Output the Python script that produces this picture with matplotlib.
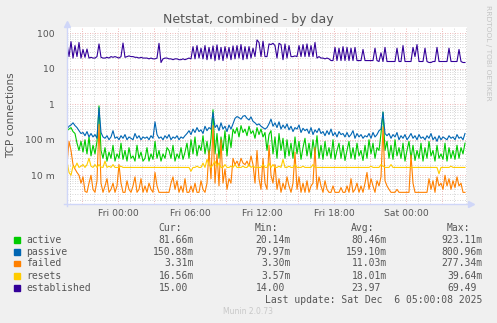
import matplotlib
matplotlib.use('Agg')
import matplotlib.pyplot as plt
import matplotlib.dates as mdates
import matplotlib.ticker as mtick
from matplotlib.lines import Line2D
from matplotlib.patches import Rectangle
import pandas as pd

# netstat samples, one every 10 minutes, Thu 19:45 -> Sat 04:55
active = [0.18, 0.20, 0.22, 0.17, 0.15, 0.08, 0.05, 0.09, 0.045, 0.10,
          0.04, 0.12, 0.035, 0.07, 0.04, 0.09, 0.90, 0.05, 0.03, 0.06,
          0.025, 0.045, 0.03, 0.07, 0.025, 0.04, 0.03, 0.08, 0.028, 0.05,
          0.025, 0.06, 0.03, 0.035, 0.025, 0.07, 0.03, 0.045, 0.025, 0.03,
          0.06, 0.025, 0.04, 0.028, 0.09, 0.03, 0.05, 0.025, 0.04, 0.03,
          0.06, 0.05, 0.03, 0.07, 0.025, 0.04, 0.03, 0.06, 0.028, 0.045,
          0.08, 0.03, 0.10, 0.04, 0.12, 0.035, 0.07, 0.05, 0.13, 0.04,
          0.09, 0.035, 0.11, 0.70, 0.04, 0.15, 0.03, 0.12, 0.05, 0.18,
          0.035, 0.14, 0.06, 0.20, 0.15, 0.22, 0.12, 0.25, 0.16, 0.20,
          0.13, 0.24, 0.15, 0.18, 0.11, 0.22, 0.14, 0.20, 0.12, 0.16,
          0.05, 0.14, 0.18, 0.04, 0.12, 0.03, 0.15, 0.05, 0.11, 0.03,
          0.10, 0.035, 0.08, 0.03, 0.12, 0.04, 0.09, 0.028, 0.06, 0.11,
          0.035, 0.08, 0.03, 0.10, 0.04, 0.13, 0.03, 0.07, 0.028, 0.09,
          0.035, 0.06, 0.03, 0.10, 0.028, 0.05, 0.08, 0.03, 0.07, 0.026,
          0.05, 0.09, 0.03, 0.06, 0.028, 0.08, 0.035, 0.05, 0.026, 0.07,
          0.03, 0.10, 0.04, 0.08, 0.03, 0.06, 0.05, 0.15, 0.60, 0.05,
          0.09, 0.03, 0.07, 0.028, 0.10, 0.035, 0.06, 0.03, 0.08, 0.025,
          0.05, 0.09, 0.03, 0.07, 0.026, 0.05, 0.03, 0.08, 0.025, 0.06,
          0.03, 0.09, 0.035, 0.05, 0.025, 0.07, 0.03, 0.04, 0.028, 0.08,
          0.025, 0.06, 0.03, 0.05, 0.028, 0.07, 0.03, 0.06, 0.04, 0.08]
passive = [0.20, 0.24, 0.26, 0.30, 0.25, 0.22, 0.18, 0.15, 0.16, 0.13,
           0.17, 0.12, 0.15, 0.12, 0.14, 0.11, 0.80, 0.16, 0.12, 0.11,
           0.13, 0.10, 0.12, 0.18, 0.11, 0.12, 0.10, 0.13, 0.11, 0.14,
           0.10, 0.12, 0.11, 0.10, 0.15, 0.11, 0.13, 0.10, 0.12, 0.11,
           0.12, 0.10, 0.13, 0.11, 0.32, 0.14, 0.11, 0.12, 0.10, 0.13,
           0.11, 0.14, 0.10, 0.12, 0.11, 0.13, 0.10, 0.12, 0.11, 0.13,
           0.15, 0.18, 0.14, 0.20, 0.16, 0.22, 0.17, 0.19, 0.15, 0.24,
           0.18, 0.22, 0.20, 0.60, 0.22, 0.26, 0.18, 0.30, 0.20, 0.24,
           0.17, 0.26, 0.20, 0.28, 0.40, 0.45, 0.42, 0.38, 0.46, 0.48,
           0.40, 0.36, 0.44, 0.33, 0.30, 0.26, 0.28, 0.24, 0.22, 0.20,
           0.22, 0.28, 0.38, 0.24, 0.30, 0.22, 0.32, 0.20, 0.26, 0.21,
           0.28, 0.19, 0.24, 0.17, 0.22, 0.20, 0.26, 0.16, 0.21, 0.18,
           0.20, 0.15, 0.22, 0.14, 0.19, 0.16, 0.21, 0.15, 0.17, 0.13,
           0.18, 0.14, 0.20, 0.13, 0.16, 0.12, 0.17, 0.14, 0.15, 0.12,
           0.16, 0.12, 0.14, 0.18, 0.11, 0.15, 0.12, 0.14, 0.11, 0.13,
           0.12, 0.15, 0.11, 0.16, 0.12, 0.14, 0.18, 0.20, 0.60, 0.15,
           0.13, 0.15, 0.11, 0.14, 0.12, 0.16, 0.10, 0.13, 0.11, 0.14,
           0.10, 0.12, 0.15, 0.11, 0.13, 0.10, 0.14, 0.11, 0.12, 0.10,
           0.13, 0.11, 0.15, 0.10, 0.12, 0.09, 0.13, 0.10, 0.12, 0.11,
           0.10, 0.13, 0.11, 0.12, 0.10, 0.14, 0.11, 0.12, 0.10, 0.15]
failed = [0.02, 0.09, 0.05, 0.02, 0.015, 0.012, 0.01, 0.006, 0.009, 0.0035,
          0.0033, 0.006, 0.01, 0.004, 0.0033, 0.007, 0.27, 0.006, 0.0033, 0.005,
          0.008, 0.0033, 0.004, 0.006, 0.0033, 0.005, 0.02, 0.006, 0.0033, 0.0033,
          0.007, 0.004, 0.0033, 0.005, 0.009, 0.0033, 0.004, 0.008, 0.0033, 0.005,
          0.0033, 0.006, 0.004, 0.0033, 0.012, 0.005, 0.0033, 0.0033, 0.0033, 0.0033,
          0.0033, 0.0033, 0.006, 0.009, 0.004, 0.007, 0.0033, 0.005, 0.0033, 0.008,
          0.0033, 0.0033, 0.005, 0.0033, 0.006, 0.0033, 0.0033, 0.007, 0.004, 0.0033,
          0.006, 0.05, 0.008, 0.25, 0.006, 0.04, 0.005, 0.10, 0.006, 0.015,
          0.004, 0.008, 0.006, 0.03, 0.02, 0.025, 0.018, 0.03, 0.022, 0.02,
          0.025, 0.018, 0.035, 0.02, 0.006, 0.05, 0.008, 0.004, 0.03, 0.006,
          0.004, 0.07, 0.01, 0.006, 0.02, 0.004, 0.008, 0.0033, 0.006, 0.004,
          0.009, 0.005, 0.0033, 0.006, 0.045, 0.004, 0.009, 0.0033, 0.006, 0.0033,
          0.007, 0.0033, 0.005, 0.006, 0.06, 0.004, 0.009, 0.005, 0.0033, 0.007,
          0.004, 0.0033, 0.0033, 0.005, 0.0033, 0.0033, 0.0033, 0.0045, 0.0033, 0.0033,
          0.005, 0.0033, 0.008, 0.0033, 0.004, 0.006, 0.0033, 0.005, 0.0033, 0.006,
          0.012, 0.004, 0.008, 0.005, 0.0033, 0.007, 0.005, 0.009, 0.23, 0.007,
          0.005, 0.004, 0.0033, 0.0033, 0.0033, 0.004, 0.0033, 0.0033, 0.0033, 0.0033,
          0.0033, 0.0033, 0.037, 0.006, 0.0033, 0.0033, 0.0033, 0.0033, 0.0033, 0.0033,
          0.0033, 0.008, 0.004, 0.007, 0.0033, 0.009, 0.005, 0.006, 0.004, 0.01,
          0.005, 0.008, 0.004, 0.007, 0.0045, 0.009, 0.005, 0.006, 0.0033, 0.0033]
resets = [0.025, 0.012, 0.010, 0.018, 0.0166, 0.022, 0.0166, 0.018, 0.020, 0.0166,
          0.020, 0.030, 0.018, 0.0166, 0.020, 0.0166, 0.020, 0.017, 0.0166, 0.025,
          0.0166, 0.018, 0.0166, 0.020, 0.0166, 0.0166, 0.0166, 0.018, 0.0166, 0.0166,
          0.0166, 0.0166, 0.0166, 0.0166, 0.0166, 0.0166, 0.0166, 0.0166, 0.0166, 0.0166,
          0.0166, 0.0166, 0.0166, 0.0166, 0.0166, 0.0166, 0.0166, 0.0166, 0.0166, 0.0166,
          0.0166, 0.0166, 0.0166, 0.0166, 0.0166, 0.0166, 0.0166, 0.0166, 0.0166, 0.0166,
          0.0166, 0.0166, 0.013, 0.0166, 0.0166, 0.018, 0.0166, 0.0166, 0.022, 0.0166,
          0.028, 0.020, 0.0166, 0.020, 0.025, 0.018, 0.022, 0.0166, 0.0166, 0.020,
          0.0166, 0.0166, 0.018, 0.0166, 0.020, 0.0166, 0.0166, 0.0166, 0.018, 0.0166,
          0.0166, 0.020, 0.0166, 0.018, 0.0166, 0.0166, 0.0166, 0.0166, 0.020, 0.0166,
          0.0166, 0.022, 0.0166, 0.020, 0.0166, 0.0166, 0.018, 0.0166, 0.028, 0.0166,
          0.0166, 0.018, 0.0166, 0.0166, 0.020, 0.0166, 0.0166, 0.0166, 0.018, 0.0166,
          0.0166, 0.0166, 0.0166, 0.020, 0.0166, 0.0166, 0.0166, 0.0166, 0.0166, 0.0166,
          0.0166, 0.0166, 0.0166, 0.0166, 0.0166, 0.0166, 0.0166, 0.0166, 0.0166, 0.0166,
          0.0166, 0.0166, 0.0166, 0.0166, 0.0166, 0.0166, 0.0166, 0.0166, 0.0166, 0.0166,
          0.0166, 0.0166, 0.018, 0.0166, 0.0166, 0.0166, 0.0166, 0.020, 0.018, 0.0166,
          0.0166, 0.0166, 0.020, 0.0166, 0.0166, 0.0166, 0.0166, 0.0166, 0.0166, 0.0166,
          0.0166, 0.0166, 0.0166, 0.0166, 0.0166, 0.0166, 0.0166, 0.0166, 0.0166, 0.0166,
          0.0166, 0.0166, 0.0166, 0.0166, 0.0166, 0.0166, 0.011, 0.0166, 0.0166, 0.0166,
          0.0166, 0.0166, 0.018, 0.0166, 0.0166, 0.0166, 0.0166, 0.0166, 0.0166, 0.0166]
established = [50, 22, 58, 20, 45, 22, 55, 20, 35, 21,
               36, 20, 21, 20, 20, 22, 50, 21, 20, 20,
               21, 20, 22, 21, 22, 21, 20, 22, 53, 21,
               22, 23, 22, 22, 21, 21, 20, 21, 20, 20,
               20, 19, 20, 19, 19, 20, 52, 15, 19, 20,
               20, 19, 19, 18, 19, 19, 18, 18, 19, 18,
               19, 20, 19, 42, 19, 45, 20, 38, 19, 45,
               18, 40, 19, 44, 17, 47, 18, 40, 17, 42,
               20, 40, 18, 44, 19, 45, 20, 48, 18, 42,
               19, 42, 20, 38, 22, 65, 55, 22, 60, 22,
               22, 50, 48, 52, 45, 20, 52, 48, 18, 50,
               20, 45, 22, 22, 23, 22, 45, 22, 48, 22,
               50, 22, 45, 22, 55, 20, 22, 20, 20, 19,
               20, 19, 17, 17, 40, 17, 38, 17, 42, 17,
               40, 17, 38, 17, 40, 17, 17, 17, 35, 17,
               17, 17, 17, 17, 38, 17, 16, 28, 16, 40,
               16, 16, 16, 16, 16, 38, 16, 16, 45, 16,
               16, 16, 16, 40, 22, 48, 16, 16, 16, 38,
               16, 15, 15, 16, 16, 40, 16, 16, 16, 16,
               16, 38, 16, 16, 16, 16, 35, 16, 15, 15]

names = ['active', 'passive', 'failed', 'resets', 'established']
colors = ['#00CC00', '#0066B3', '#FF8000', '#FFCC00', '#330099']
cur = ['81.66m', '150.88m', '3.31m', '16.56m', '15.00 ']
mins = ['20.14m', '79.97m', '3.30m', '3.57m', '14.00 ']
avgs = ['80.46m', '159.10m', '11.03m', '18.01m', '23.97 ']
maxs = ['923.11m', '800.96m', '277.34m', '39.64m', '69.49 ']

W, H = 497, 323
FONT = '#555555'

def fx(x):
    return x / float(W)

def fy(y):
    return 1 - y / float(H)

fig = plt.figure(figsize=(W / 100.0, H / 100.0), dpi=100, facecolor='#F0F0F0')
ax = fig.add_axes([fx(67), fy(203.5), 400.0 / W, (203.5 - 27) / H])
ax.set_facecolor('white')

times = pd.date_range('2025-12-04 19:45', periods=len(active), freq='10min')
t0 = pd.Timestamp('2025-12-04 19:45')
t1 = pd.Timestamp('2025-12-06 05:05')

for vals, col in zip([active, passive, failed, resets, established], colors):
    ax.plot(times[:len(vals)], vals, color=col, lw=0.8, zorder=3)

ax.set_yscale('log')
ax.set_ylim(0.0016, 150)
ax.set_xlim(t0, t1)

# rrdtool style grid
for d in range(-3, 3):
    for k in range(1, 10):
        v = k * 10.0 ** d
        if 0.0016 < v < 150:
            if k == 1:
                ax.axhline(v, color='#E8A0A0', lw=0.6, ls=(0, (1, 2)), zorder=1)
            else:
                ax.axhline(v, color='#C8C8C8', lw=0.6, ls=(0, (1, 2)), zorder=1)
for h in pd.date_range('2025-12-04 20:00', '2025-12-06 05:00', freq='1h'):
    if h.hour % 3 == 0:
        ax.axvline(h, color='#E8A0A0', lw=0.6, ls=(0, (1, 2)), zorder=1)
    else:
        ax.axvline(h, color='#C8C8C8', lw=0.6, ls=(0, (1, 2)), zorder=1)

for s in ax.spines.values():
    s.set_visible(False)

ax.set_yticks([0.01, 0.1, 1, 10, 100])
ax.set_yticklabels(['10 m', '100 m', '1', '10', '100'])
ax.yaxis.set_minor_locator(mtick.NullLocator())
ax.set_xticks(pd.date_range('2025-12-05 00:00', periods=5, freq='6h'))
ax.xaxis.set_major_formatter(mdates.DateFormatter('%a %H:%M'))
ax.xaxis.set_minor_locator(mtick.NullLocator())
ax.tick_params(axis='y', length=0, pad=9, labelsize=6.7, labelcolor=FONT)
ax.tick_params(axis='x', length=0, pad=4, labelsize=6.7, labelcolor=FONT)

# axis lines with arrows
acol = '#CFD6F8'
fig.add_artist(Line2D([fx(67), fx(67)], [fy(206), fy(24)], color=acol, lw=1))
fig.add_artist(Line2D([fx(64), fx(469)], [fy(203.5), fy(203.5)], color=acol, lw=1))
fig.add_artist(Line2D([fx(67)], [fy(23.5)], marker='^', ms=4, color=acol, mec=acol))
fig.add_artist(Line2D([fx(470.5)], [fy(203.5)], marker='>', ms=4, color=acol, mec=acol))

fig.text(fx(248), fy(19), 'Netstat, combined - by day', ha='center', va='center',
         fontsize=9, color=FONT)
fig.text(fx(11), fy(115), 'TCP connections', ha='center', va='center',
         rotation=90, fontsize=7.5, color=FONT)
fig.text(fx(488), fy(53), 'RRDTOOL / TOBI OETIKER', ha='center', va='center',
         rotation=270, fontsize=5.4, color='#C4C4C4')

# legend table
mono = dict(family='DejaVu Sans Mono', fontsize=7, color=FONT, va='center')
cw = 5.97
for label, xr in [('Cur:', 182), ('Min:', 278.3), ('Avg:', 374.3), ('Max:', 470)]:
    fig.text(fx(xr), fy(227.7), label, ha='right', **mono)
rows = [239.7, 251.7, 263.5, 275.7, 287.7]
for i, y in enumerate(rows):
    fig.patches.append(Rectangle((fx(14), fy(y + 2.8)), 5.5 / W, 5.5 / H,
                                 transform=fig.transFigure, color=colors[i]))
    fig.text(fx(26), fy(y), names[i], ha='left', **mono)
    for col, xr in [(cur, 194), (mins, 291), (avgs, 386.7), (maxs, 482.7)]:
        txt = col[i]
        xx = xr
        if txt.endswith(' '):
            txt = txt.strip()
            xx = xr - cw
        fig.text(fx(xx), fy(y), txt, ha='right', **mono)
fig.text(fx(482.7), fy(299.7), 'Last update: Sat Dec  6 05:00:08 2025', ha='right', **mono)
fig.text(fx(248), fy(311.7), 'Munin 2.0.73', ha='center', va='center',
         fontsize=5.5, color='#C8C8C8')

fig.savefig('out.png', dpi=100, facecolor=fig.get_facecolor())
